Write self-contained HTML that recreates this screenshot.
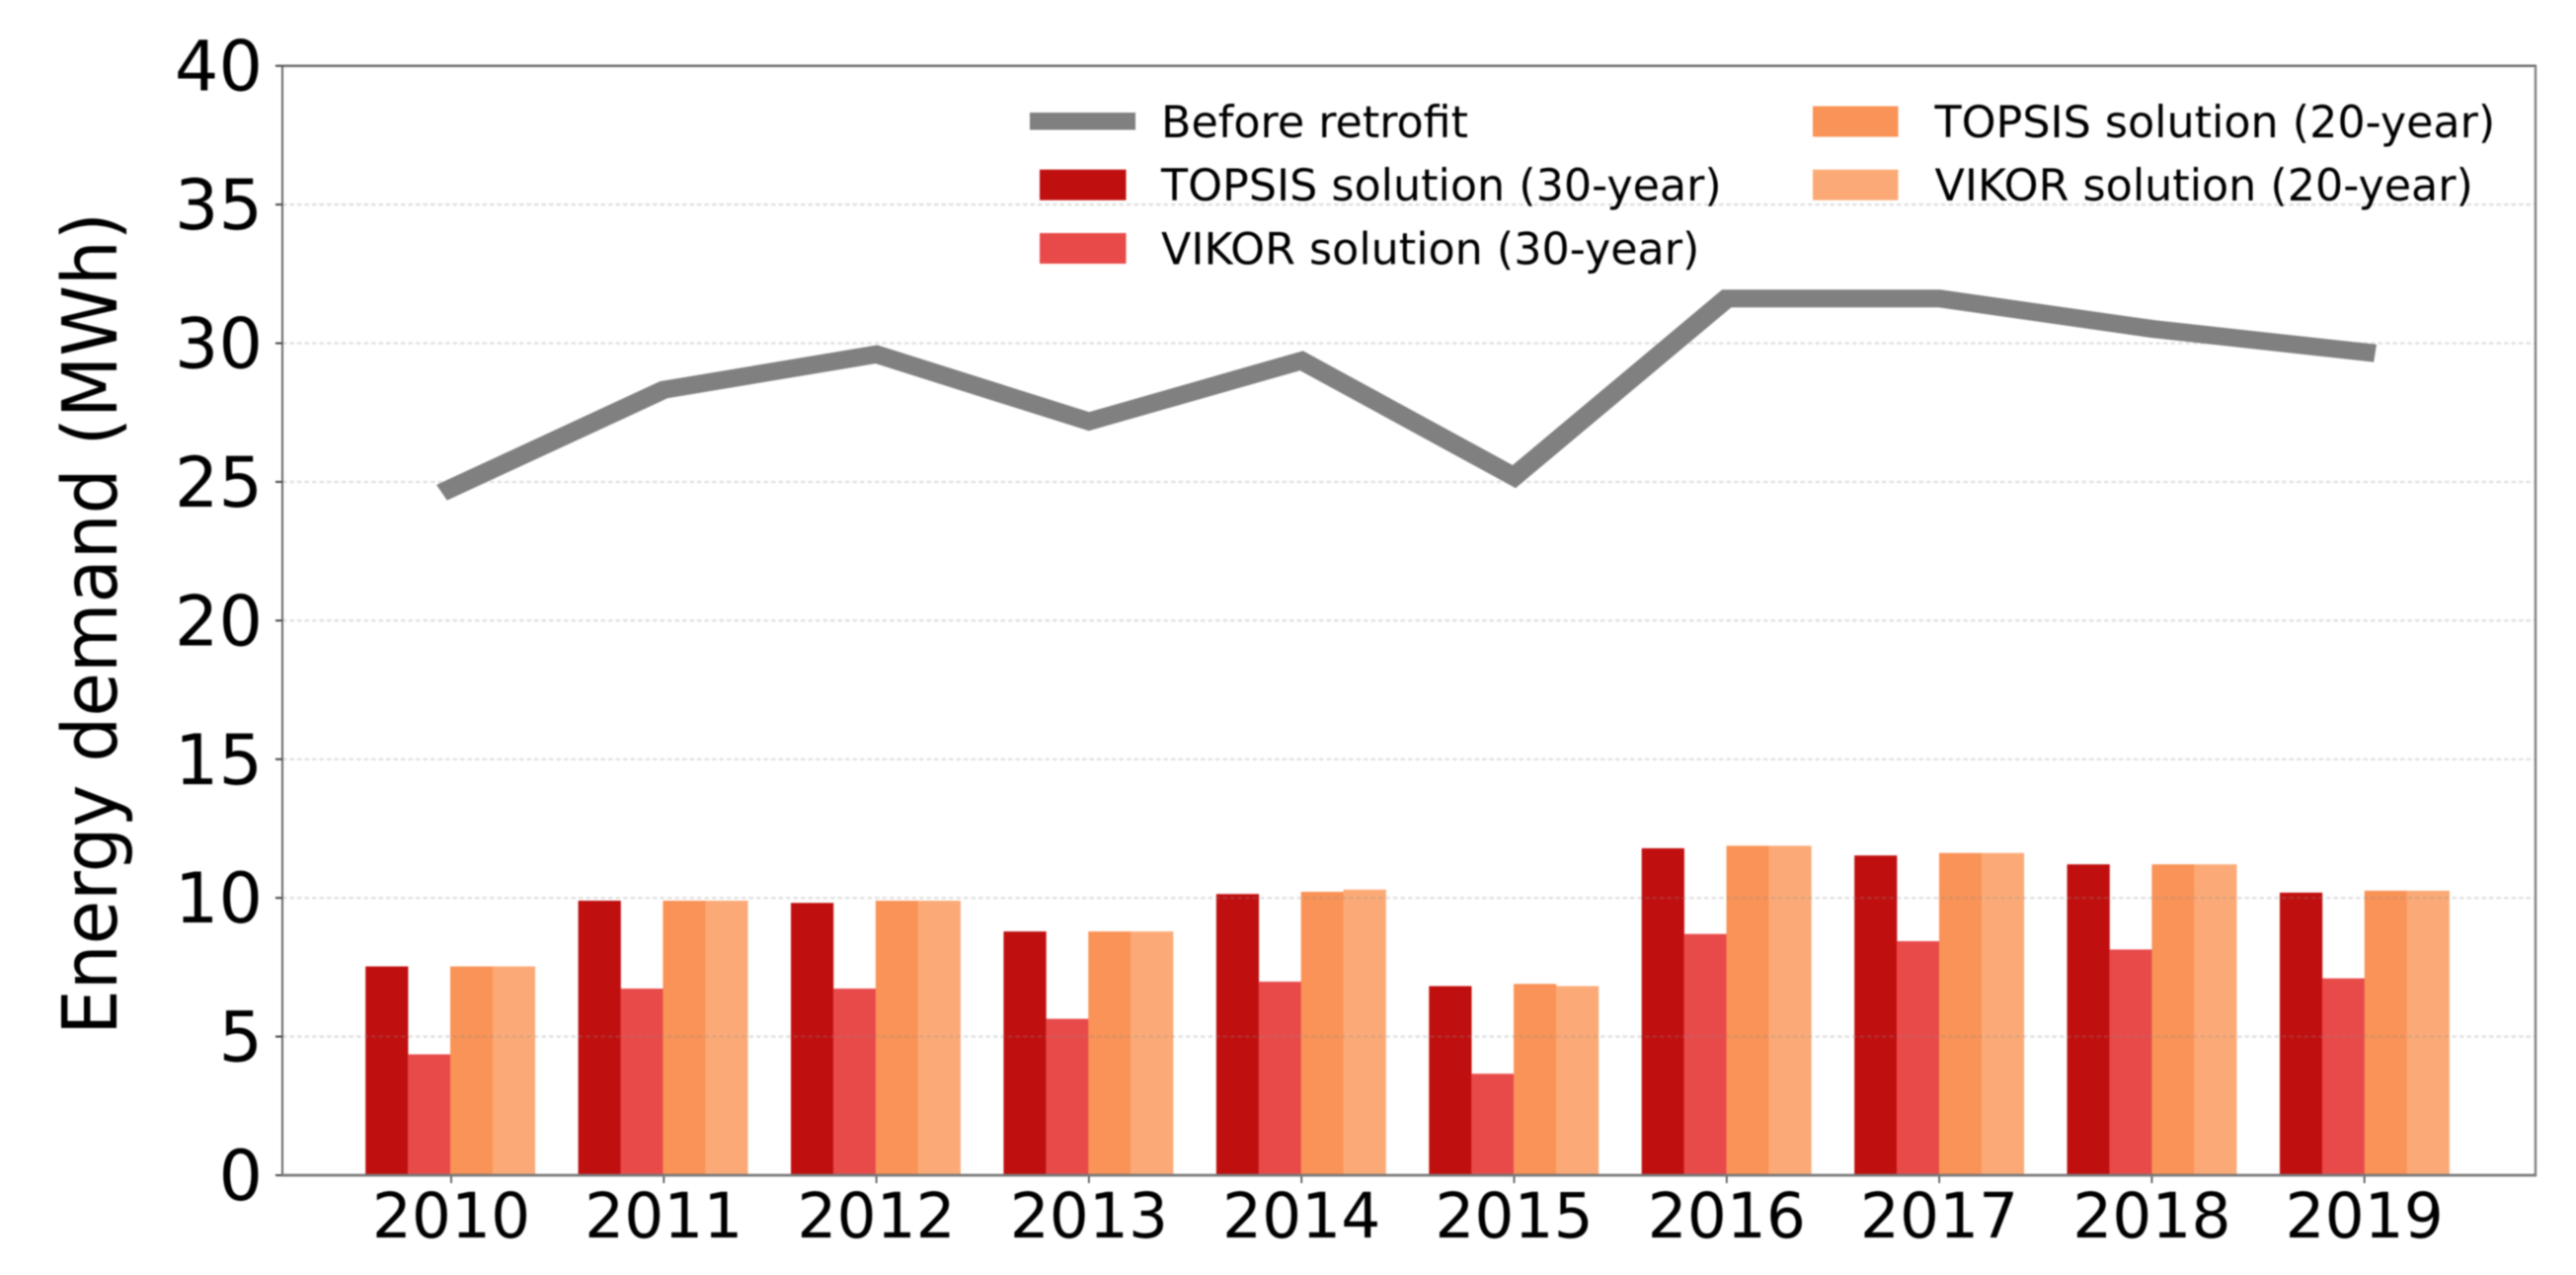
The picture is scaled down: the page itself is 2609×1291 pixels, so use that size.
<!DOCTYPE html>
<html>
<head>
<meta charset="utf-8">
<title>Energy demand chart</title>
<style>
html,body{margin:0;padding:0;background:#fff;}
svg{display:block;filter:blur(0.85px);}
text{font-family:"DejaVu Sans","Liberation Sans",sans-serif;fill:#000;}
</style>
</head>
<body>
<svg id="chart" xmlns="http://www.w3.org/2000/svg" width="2609" height="1291" viewBox="0 0 2609 1291">
  <rect x="0" y="0" width="2609" height="1291" fill="#ffffff"/>
  <g id="bars"></g>
  <g id="grid"></g>
  <g id="lineLayer"></g>
  <g id="axes"></g>
  <text transform="translate(118,631.5) rotate(-90) scale(1,1.06)" text-anchor="middle" font-size="72.4">Energy demand (MWh)</text>
  <g>
    <rect x="1043" y="114" width="107" height="17.5" fill="#808080"/>
    <text x="1176" y="139.2" font-size="44.4">Before retrofit</text>
    <rect x="1053" y="171.7" width="87.5" height="31" fill="#c00f0f"/>
    <text x="1176" y="203.2" font-size="44.4">TOPSIS solution (30-year)</text>
    <rect x="1053" y="236" width="87.5" height="31" fill="#e84a4a"/>
    <text x="1176" y="267.5" font-size="44.4">VIKOR solution (30-year)</text>
    <rect x="1836" y="107.5" width="86.5" height="31" fill="#f99357"/>
    <text x="1959.5" y="139.2" font-size="44.4">TOPSIS solution (20-year)</text>
    <rect x="1836" y="171.7" width="86.5" height="31" fill="#fbaa77"/>
    <text x="1959.5" y="203.2" font-size="44.4">VIKOR solution (20-year)</text>
  </g>
</svg>
<script>
const categories = ['2010','2011','2012','2013','2014','2015','2016','2017','2018','2019'];
const yTickLabels = ['0','5','10','15','20','25','30','35','40'];
const gridValues = [5,10,15,20,25,30,35];
const beforeRetrofit = [24.77,28.32,29.6,27.18,29.37,25.19,31.61,31.61,30.52,29.68];
const topsis30 = [7.53,9.9,9.82,8.79,10.14,6.82,11.79,11.53,11.21,10.19];
const vikor30 = [4.36,6.73,6.73,5.64,6.98,3.66,8.7,8.44,8.14,7.1];
const topsis20 = [7.53,9.9,9.9,8.79,10.22,6.9,11.88,11.62,11.21,10.26];
const vikor20 = [7.53,9.9,9.9,8.79,10.3,6.82,11.88,11.62,11.21,10.26];

const NS = 'http://www.w3.org/2000/svg';
const plot = {left:286, right:2568, top:66.7, bottom:1190};
const yMax = 40;
const firstTick = 457, tickStep = 215.3, barW = 42.9;
const groupFirst = 456, groupStep = 215.42;
const lineStretch = 1.22;

function yScale(v){ return plot.bottom - (v / yMax) * (plot.bottom - plot.top); }
function xScale(i){ return firstTick + i * tickStep; }
function groupX(i){ return groupFirst + i * groupStep; }
function make(tag, attrs, parent){
  const el = document.createElementNS(NS, tag);
  for (const k in attrs) el.setAttribute(k, attrs[k]);
  parent.appendChild(el);
  return el;
}

const barsG = document.getElementById('bars');
const gridG = document.getElementById('grid');
const lineG = document.getElementById('lineLayer');
const axesG = document.getElementById('axes');

const seriesList = [
  {key:'topsis-30', vals:topsis30, color:'#c00f0f'},
  {key:'vikor-30', vals:vikor30, color:'#e84a4a'},
  {key:'topsis-20', vals:topsis20, color:'#f99357'},
  {key:'vikor-20', vals:vikor20, color:'#fbaa77'}
];
seriesList.forEach(function(s, si){
  s.vals.forEach(function(v, i){
    const x = groupX(i) - 2 * barW + si * barW;
    const y = yScale(v);
    const bar = make('rect', {x:x, y:y, width:barW + 0.3, height:plot.bottom - y, fill:s.color}, barsG);
    
    
  });
});

gridValues.forEach(function(v){
  const g = make('line', {x1:plot.left, x2:plot.right, y1:yScale(v), y2:yScale(v), stroke:'#8c8c8c', 'stroke-opacity':'0.26', 'stroke-width':'2.4', 'stroke-dasharray':'4.5 3'}, gridG);
  
  
});

const pts = beforeRetrofit.map(function(v, i){ return (xScale(i) / lineStretch) + ',' + yScale(v); }).join(' ');
const line = make('polyline', {points:pts, transform:'scale(' + lineStretch + ',1)', fill:'none', stroke:'#808080', 'stroke-width':'18', 'stroke-linecap':'square', 'stroke-linejoin':'miter'}, lineG);



yTickLabels.forEach(function(lbl){
  const y = yScale(Number(lbl));
  const t = make('line', {x1:plot.left - 7, x2:plot.left, y1:y, y2:y, stroke:'#444', 'stroke-width':'2'}, axesG);
  
  
  const tx = make('text', {x:plot.left - 20, y:y + 25, 'text-anchor':'end', 'font-size':'70'}, axesG);
  tx.textContent = lbl;
  
  
});

categories.forEach(function(lbl, i){
  const x = xScale(i);
  const t = make('line', {x1:x, x2:x, y1:plot.bottom, y2:plot.bottom + 8, stroke:'#444', 'stroke-width':'1.6'}, axesG);
  
  
  const tx = make('text', {x:x, y:1253, 'text-anchor':'middle', 'font-size':'63'}, axesG);
  tx.textContent = lbl;
  
  
});

const spineTop = make('line', {x1:plot.left - 1, x2:plot.right + 1, y1:plot.top, y2:plot.top, stroke:'#666', 'stroke-width':'2.4'}, axesG);


const spineLeft = make('line', {x1:plot.left, x2:plot.left, y1:plot.top, y2:plot.bottom, stroke:'#555', 'stroke-width':'1.8'}, axesG);


const spineRight = make('line', {x1:plot.right, x2:plot.right, y1:plot.top, y2:plot.bottom, stroke:'#808080', 'stroke-width':'2.4'}, axesG);


const spineBottom = make('line', {x1:plot.left - 1, x2:plot.right + 1, y1:plot.bottom, y2:plot.bottom, stroke:'#777', 'stroke-width':'2.8'}, axesG);


</script>
</body>
</html>
